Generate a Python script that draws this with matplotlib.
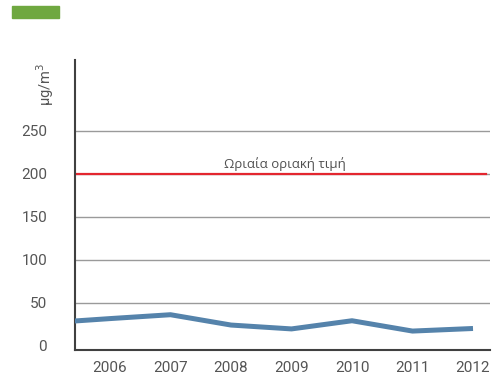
import matplotlib
matplotlib.use('Agg')
import matplotlib.pyplot as plt
from matplotlib.patches import Rectangle

years = ['2006', '2007', '2008', '2009', '2010', '2011', '2012']
values = [31.5, 36, 24, 19.5, 29, 17, 20]
# the line enters from the left edge: part of an earlier point is visible
prev_value = 26.7
limit_value = 200
limit_label = 'Ωριαία οριακή τιμή'
y_ticks = [0, 50, 100, 150, 200, 250]

plt.rcParams['font.family'] = ['Roboto', 'DejaVu Sans']

fig = plt.figure(figsize=(4.97, 3.80), dpi=100)
ax = fig.add_axes([75 / 497, 30 / 380, 415 / 497, 290 / 380])

x = list(range(-1, len(years)))
ax.plot(x, [prev_value] + values, color='#5583ab', lw=3.6,
        solid_capstyle='butt', zorder=3)
ax.axhline(limit_value, xmax=0.99, color='#e3262f', lw=1.6, zorder=2)
ax.text(2.89, 211, limit_label, ha='center', va='center', fontsize=9.5,
        color='#505050', family=['Open Sans', 'DejaVu Sans'])

ax.set_xlim(-35 / 60.5, 380 / 60.5)
ax.set_ylim(-5, 332)
ax.set_yticks(y_ticks)
ax.set_yticklabels([str(v) for v in y_ticks])
ax.set_xticks(range(len(years)))
ax.set_xticklabels(years)
ax.tick_params(length=0, colors='#555555', labelsize=11)
ax.tick_params(axis='y', pad=20)
ax.tick_params(axis='x', pad=8)

for v in y_ticks[1:]:
    ax.axhline(v, color='#9a9a9a', lw=1.0, zorder=1)

for side in ['top', 'right']:
    ax.spines[side].set_visible(False)
for side in ['left', 'bottom']:
    ax.spines[side].set_color('#404040')
    ax.spines[side].set_linewidth(1.5)

fig.text(45 / 497, 1 - 84 / 380, 'μg/m$^3$', rotation=90, ha='center', va='center',
         fontsize=10.5, color='#555555')
fig.patches.append(Rectangle((12 / 497, 1 - 17.7 / 380), 47 / 497, 11.7 / 380,
                             transform=fig.transFigure, color='#6fa840'))

fig.savefig('out.png', dpi=100)
